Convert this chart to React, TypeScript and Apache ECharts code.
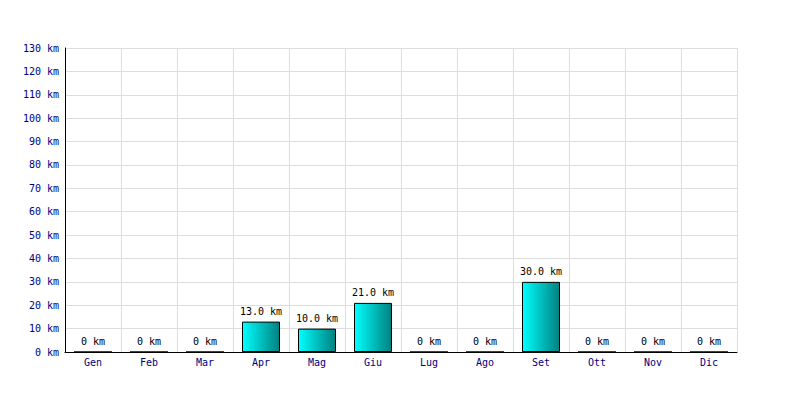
import React, { useEffect, useRef } from "react";
import * as echarts from "echarts";

const months = ["Gen", "Feb", "Mar", "Apr", "Mag", "Giu", "Lug", "Ago", "Set", "Ott", "Nov", "Dic"];
const distances = [0, 0, 0, 13, 10, 21, 0, 0, 30, 0, 0, 0];

export default function App() {
  const ref = useRef<HTMLDivElement>(null);
  useEffect(() => {
    const chart = echarts.init(ref.current!, null, { renderer: "svg" });
    const font = "DejaVu Sans Mono";
    chart.setOption({
      animation: false,
      backgroundColor: "#ffffff",
      grid: { left: 65, right: 63, top: 48, bottom: 48, containLabel: false },
      xAxis: {
        type: "category",
        data: months,
        boundaryGap: true,
        axisLine: { show: true, lineStyle: { color: "#000000", width: 1 } },
        axisTick: { show: false },
        axisLabel: { color: "#000080", fontFamily: font, fontSize: 10, margin: 5, interval: 0 },
        splitLine: { show: true, interval: 0, lineStyle: { color: "#dddddd", width: 1 } },
      },
      yAxis: {
        type: "value",
        min: 0,
        max: 130,
        interval: 10,
        axisLine: { show: true, lineStyle: { color: "#000000", width: 1 } },
        axisTick: { show: false },
        axisLabel: {
          color: "#000080",
          fontFamily: font,
          fontSize: 10,
          margin: 6,
          formatter: (v: number) => `${v} km`,
        },
        splitLine: { show: true, lineStyle: { color: "#dddddd", width: 1 } },
      },
      series: [
        {
          type: "bar",
          data: distances,
          barWidth: 38,
          itemStyle: {
            borderColor: "#000000",
            borderWidth: 1,
            color: new echarts.graphic.LinearGradient(0, 0, 1, 0, [
              { offset: 0, color: "#00ffff" },
              { offset: 1, color: "#008080" },
            ]),
          },
          label: {
            show: true,
            position: "top",
            distance: 5,
            color: "#000000",
            fontFamily: font,
            fontSize: 10,
            formatter: (p: any) => (p.value === 0 ? "0 km" : `${Number(p.value).toFixed(1)} km`),
          },
        },
      ],
    });
    return () => chart.dispose();
  }, []);
  return (
    <div
      ref={ref}
      style={{ position: "absolute", left: 0, top: 0, width: 800, height: 400 }}
    />
  );
}
